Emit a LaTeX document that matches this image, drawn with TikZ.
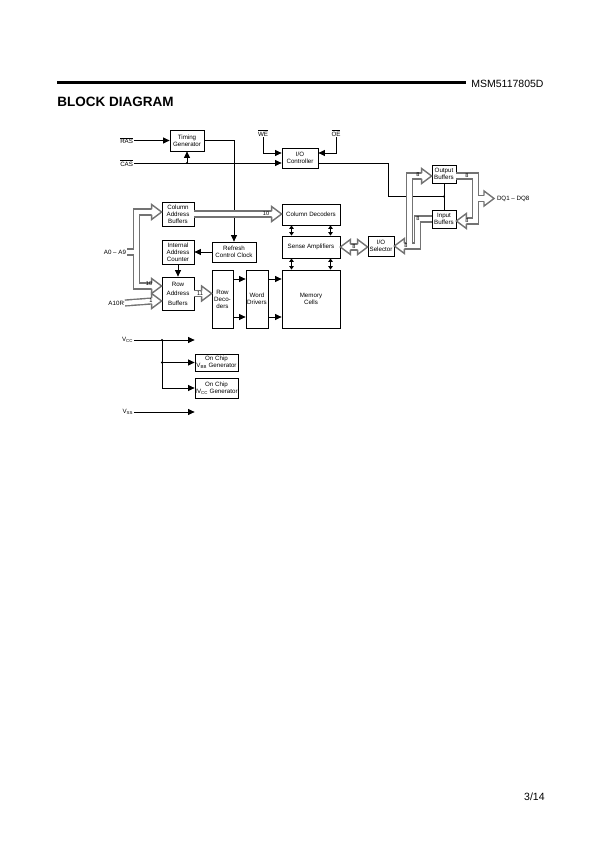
\documentclass[tikz,border=0pt]{standalone}
\usepackage{fontspec}
\setmainfont{Liberation Sans}
\usetikzlibrary{arrows.meta,calc}

\definecolor{busgray}{gray}{0.45}

\tikzset{
  blk/.style={draw, fill=white, line width=0.8pt, align=center, inner sep=0pt, font=\fontsize{6.2}{7}\selectfont},
  lbl/.style={inner sep=0.6pt, font=\fontsize{6.2}{7}\selectfont},
  num/.style={inner sep=0pt, font=\fontsize{5.6}{6}\selectfont},
  arr/.style={-{Triangle[length=6.5pt,width=6pt]}},
  darr/.style={{Triangle[length=3.5pt,width=4.5pt]}-{Triangle[length=3.5pt,width=4.5pt]}},
  busline/.style={line width=7.2pt, draw=busgray},
  busfill/.style={line width=4.4pt, draw=white},
  bushead/.pic={\filldraw[fill=white, draw=busgray, line width=1.4pt] (-10,2.9) -- (-10,7.5) -- (0,0) -- (-10,-7.5) -- (-10,-2.9);},
}
\newcommand{\bus}[2][]{\draw[busline,#1]#2;\draw[busfill,#1]#2;}

\begin{document}
\begin{tikzpicture}[x=1pt, y=-1pt, line width=0.8pt]
    \useasboundingbox (0,0) rectangle (595,842);

    \draw[line width=3pt] (57,83) -- (466,83);
    \node[anchor=west, inner sep=0pt, font=\fontsize{10.5}{12}\selectfont] (partno) at (471,84) {MSM5117805D};
    \node[anchor=west, inner sep=0pt, font=\bfseries\fontsize{13.5}{15}\selectfont] (title) at (57,102) {BLOCK DIAGRAM};
    \node[anchor=east, inner sep=0pt, font=\fontsize{10.5}{12}\selectfont] (pageno) at (545,797) {3/14};

    \node[blk, minimum width=34pt, minimum height=21pt] (tgen) at (187,140.5) {Timing\\Generator};
    \node[blk, minimum width=36pt, minimum height=20pt] (ioctl) at (300,158) {I/O\\Controller};
    \node[blk, minimum width=32pt, minimum height=24pt] (cab) at (178,214) {Column\\Address\\Buffers};
    \node[blk, minimum width=32pt, minimum height=24pt] (iac) at (178,252) {Internal\\Address\\Counter};
    \node[blk, minimum width=32pt, minimum height=33pt] (rab) at (178,293.5) {Row\\[2.5pt]Address\\[2.5pt]Buffers};
    \node[blk, minimum width=44pt, minimum height=20pt] (rcc) at (234,252) {Refresh\\Control Clock};
    \node[blk, minimum width=21pt, minimum height=58pt] (rdec) at (222.5,299) {Row\\Deco-\\ders};
    \node[blk, minimum width=22pt, minimum height=58pt] (wdrv) at (257,299) {Word\\Drivers};
    \node[blk, minimum width=58pt, minimum height=58pt] (mem) at (311,299) {Memory\\Cells};
    \node[blk, minimum width=58pt, minimum height=21pt] (cdec) at (311,214.5) {Column Decoders};
    \node[blk, minimum width=58pt, minimum height=22pt] (samp) at (311,247) {Sense Amplifiers};
    \node[blk, minimum width=26pt, minimum height=20pt] (iosel) at (381,246) {I/O\\Selector};
    \node[blk, minimum width=24pt, minimum height=18pt] (obuf) at (444,174) {Output\\Buffers};
    \node[blk, minimum width=24pt, minimum height=18pt] (ibuf) at (444,219) {Input\\Buffers};
    \node[blk, minimum width=43pt, minimum height=17pt] (vbb) at (216.5,362.5) {On Chip\\V\textsubscript{BB} Generator};
    \node[blk, minimum width=43pt, minimum height=20pt] (ivcc) at (216.5,388) {On Chip\\IV\textsubscript{CC} Generator};

    \node[lbl, anchor=east] (ras) at (134,140.5) {$\overline{\hbox{RAS}}$};
    \node[lbl, anchor=east] (cas) at (134,163) {$\overline{\hbox{CAS}}$};
    \node[lbl] (we) at (263,133) {$\overline{\hbox{WE}}$};
    \node[lbl] (oe) at (336,133) {$\overline{\hbox{OE}}$};
    \node[lbl, anchor=east] (a09) at (127,252) {A0 -- A9};
    \node[lbl, anchor=east] (a10r) at (125,303) {A10R};
    \node[lbl, anchor=east] (vcc) at (134,340) {V\textsubscript{CC}};
    \node[lbl, anchor=east] (vss) at (134,412) {V\textsubscript{SS}};
    \node[lbl, anchor=west] (dq) at (496,198.5) {DQ1 -- DQ8};

    \draw[arr] (ras) -- (tgen);
    \draw[arr] (cas.east) -- (cas.east -| ioctl.west);
    \draw[arr] (cas.east -| tgen.south) -- (tgen.south);
    \fill (cas.east -| tgen.south) circle (1.2);
    \draw[arr] (we.south) |- ($(ioctl.west)+(0,-5)$);
    \draw[arr] (oe.south) |- ($(ioctl.east)+(0,-5)$);
    \coordinate (jn) at ($(obuf.south)!0.5!(ibuf.north)$);
    \draw ($(ioctl.east)+(0,5)$) -| ($(jn)+(-56,0)$) -- (jn);
    \draw (obuf) -- (ibuf);
    \fill (jn) circle (1.2);
    \draw[arr] (tgen.east) -| (rcc.north);
    \draw[arr] (rcc) -- (iac);
    \draw[arr] (iac) -- (rab);
    \foreach \dy in {-20,18} {
        \draw[arr] ($(rdec.east)+(0,\dy)$) -- ($(wdrv.west)+(0,\dy)$);
        \draw[arr] ($(wdrv.east)+(0,\dy)$) -- ($(mem.west)+(0,\dy)$);
    }
    \foreach \dx in {-19.5,19.5} {
        \draw[darr] ($(cdec.south)+(\dx,0)$) -- ($(samp.north)+(\dx,0)$);
        \draw[darr] ($(samp.south)+(\dx,0)$) -- ($(mem.north)+(\dx,0)$);
    }

    \coordinate (vj) at (162,340);
    \draw[arr] (vcc.east) -- (vbb.west |- vcc.east);
    \draw (vj) -- (vj |- ivcc.west);
    \draw[arr] (vj |- vbb.west) -- (vbb.west);
    \draw[arr] (vj |- ivcc.west) -- (ivcc.west);
    \fill (vj) circle (1.2) (vj |- vbb.west) circle (1.2);
    \draw[arr] (vss.east) -- (vbb.west |- vss.east);

    \bus{($(cab.west)+(-10,-2)$) -| ($(rab.west)+(-25,-7.5)$) -- ($(rab.west)+(-10,-7.5)$) (a09.east) -- ($(a09.east)+(10,0)$)}
    \bus{(a10r.east) -- ($(rab.west)+(-10,7.5)$)}
    \bus{(rab.east) -- ($(rab.east -| rdec.west)+(-10,0)$)}
    \bus{(cab.east) -- ($(cab.east -| cdec.west)+(-10,0)$)}
    \bus{($(samp.east)+(10,0)$) -- ($(samp.east -| iosel.west)+(-10,0)$)}
    \bus{($(iosel.east)+(10,0)$) -| ($(obuf.west)+(-22,2)$) -- ($(obuf.west)+(-10,2)$) (ibuf.west) -| ($(iosel.east)+(23,0)$) -- ($(iosel.east)+(10,0)$)}
    \bus{($(obuf.east)+(0,2)$) -- ($(obuf.east)+(19,2)$) |- ($(ibuf.east)+(10,2)$) ($(dq.west)+(-21,0)$) -- ($(dq.west)+(-12,0)$)}

    \pic at ($(cab.west)+(0,-2)$) {bushead};
    \pic at ($(rab.west)+(0,-7.5)$) {bushead};
    \pic at ($(rab.west)+(0,7.5)$) {bushead};
    \pic at (rab.east -| rdec.west) {bushead};
    \pic at (cab.east -| cdec.west) {bushead};
    \pic[rotate=180] at (samp.east) {bushead};
    \pic at (samp.east -| iosel.west) {bushead};
    \pic[rotate=180] at (iosel.east) {bushead};
    \pic at ($(obuf.west)+(0,2)$) {bushead};
    \pic[rotate=180] at ($(ibuf.east)+(0,2)$) {bushead};
    \pic at ($(dq.west)+(-2,0)$) {bushead};

    \foreach \x/\y/\t [count=\k] in {266/213.5/10, 149/284/10, 151/301/1, 200/293.5/11, 354/246.5/8, 406/246/8, 418/175/8, 418/219/8, 467/176/8, 467/221/8}
        \node[num] (num\k) at (\x,\y) {\t};
\end{tikzpicture}
\end{document}
